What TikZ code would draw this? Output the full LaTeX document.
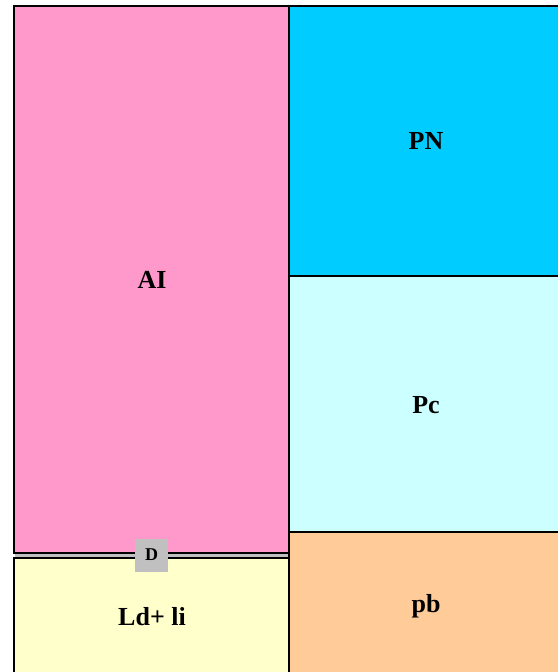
\documentclass[tikz,border=0pt]{standalone}
\usepackage{fontspec}
\setmainfont{Liberation Serif}
\definecolor{cpink}{HTML}{FF99CC}
\definecolor{ccyan}{HTML}{00CCFF}
\definecolor{clcyan}{HTML}{CCFFFF}
\definecolor{cpeach}{HTML}{FFCC99}
\definecolor{cyel}{HTML}{FFFFCC}
\definecolor{cgray}{HTML}{C0C0C0}
\begin{document}
\begin{tikzpicture}[x=1pt,y=-1pt,
  cell/.style={draw=black,line width=2pt},
  lbl/.style={font=\bfseries\fontsize{26}{28}\selectfont,inner sep=0pt},
  small/.style={font=\bfseries\fontsize{18}{19}\selectfont,fill=cgray,minimum width=33pt,minimum height=33pt,inner sep=0pt}]
\useasboundingbox (0,0) rectangle (557,672);
\fill[white] (0,0) rectangle (557,672);
% left column
\filldraw[cell,fill=cpink] (14,6) rectangle (289,553);
\filldraw[cell,fill=cyel] (14,558) rectangle (289,675);
\fill[cgray] (15,554) rectangle (288,557);
% right column
\filldraw[cell,fill=ccyan] (289,6) rectangle (560,276);
\filldraw[cell,fill=clcyan] (289,276) rectangle (560,532);
\filldraw[cell,fill=cpeach] (289,532) rectangle (560,675);
\node[lbl] (ai) at (152,280) {AI};
\node[lbl] (pn) at (426,141) {PN};
\node[lbl] (pc) at (426,405) {Pc};
\node[lbl] (pb) at (426,606) {pb};
\node[lbl] (ld) at (152,617) {Ld+ li};
\node[small] (d) at (151.5,555) {D};
\end{tikzpicture}
\end{document}
